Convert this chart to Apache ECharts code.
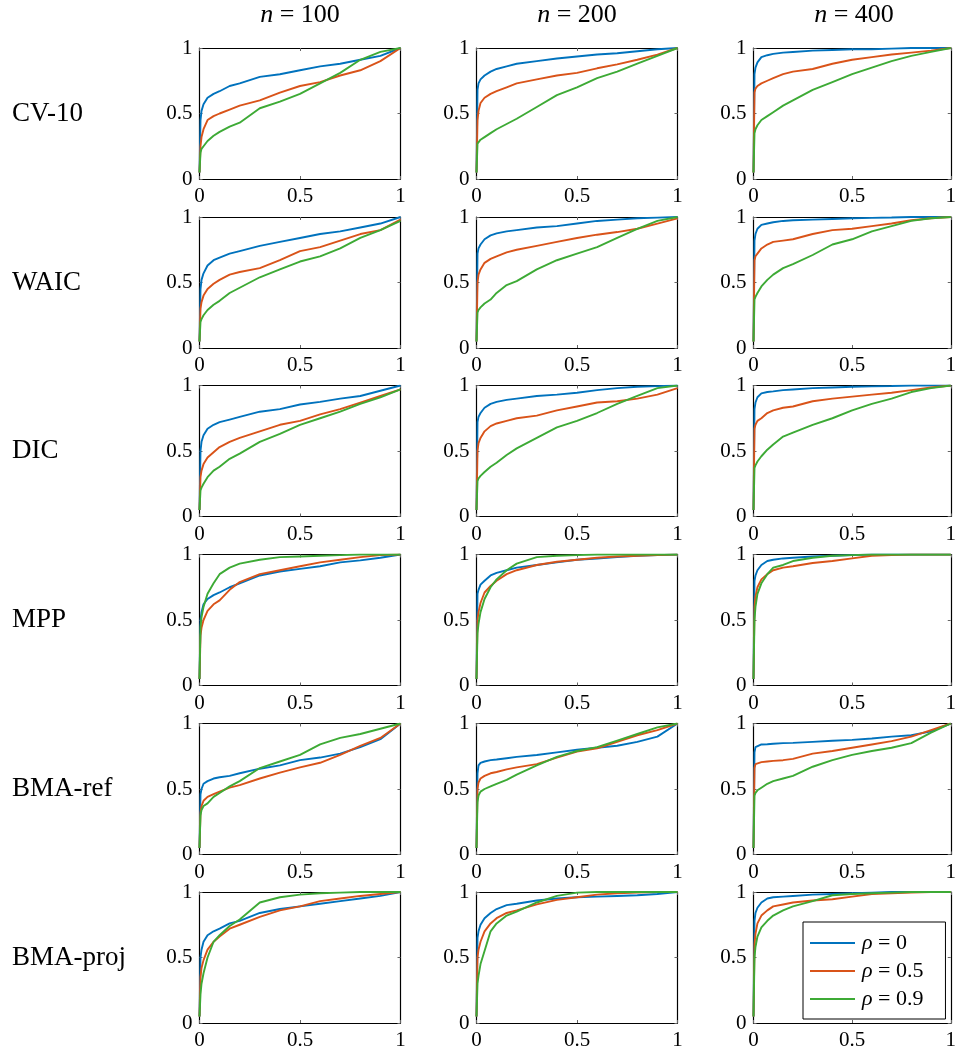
<!DOCTYPE html>
<html><head><meta charset="utf-8">
<script src="https://cdn.jsdelivr.net/npm/echarts@6/dist/echarts.min.js"></script>
<style>html,body{margin:0;padding:0;background:#fff}#c{width:959px;height:1051px}</style>
</head><body><div id="c"></div>
<script>
// shared false-positive-rate grid (x)
const FPR = [0,0.005,0.01,0.02,0.04,0.07,0.1,0.15,0.2,0.3,0.4,0.5,0.6,0.7,0.8,0.9,1];
const methods = ['CV-10','WAIC','DIC','MPP','BMA-ref','BMA-proj'];
const sampleSizes = ['100','200','400'];
const rhoLabels = ['0','0.5','0.9'];
const tickValues = [0, 0.5, 1];

// each panel: [rho=0, rho=0.5, rho=0.9] true-positive-rate values on FPR
const CV10_100 = [
 [0.05,0.45,0.52,0.57,0.62,0.65,0.67,0.71,0.73,0.78,0.8,0.83,0.86,0.88,0.91,0.94,1.0],
 [0.05,0.25,0.32,0.38,0.45,0.48,0.5,0.53,0.56,0.6,0.66,0.71,0.74,0.79,0.83,0.9,1.0],
 [0.05,0.2,0.23,0.25,0.29,0.33,0.36,0.4,0.43,0.54,0.59,0.65,0.73,0.81,0.91,0.97,1.0]];
const CV10_200 = [
 [0.05,0.68,0.73,0.76,0.79,0.82,0.84,0.86,0.88,0.9,0.92,0.935,0.95,0.96,0.975,0.99,1],
 [0.05,0.45,0.52,0.58,0.62,0.65,0.67,0.7,0.73,0.76,0.79,0.81,0.845,0.875,0.91,0.95,1],
 [0.05,0.27,0.28,0.3,0.32,0.35,0.38,0.42,0.46,0.55,0.64,0.7,0.77,0.82,0.88,0.94,1]];
const CV10_400 = [
 [0.05,0.8,0.85,0.89,0.93,0.945,0.955,0.965,0.97,0.98,0.985,0.99,0.99,0.995,1,1,1],
 [0.05,0.66,0.69,0.71,0.73,0.75,0.77,0.8,0.82,0.84,0.88,0.91,0.93,0.95,0.965,0.98,1],
 [0.05,0.35,0.38,0.41,0.45,0.48,0.51,0.56,0.6,0.68,0.74,0.8,0.85,0.9,0.94,0.97,1]];
const WAIC_100 = [
 [0.05,0.45,0.52,0.57,0.63,0.67,0.69,0.72,0.74,0.78,0.81,0.84,0.87,0.89,0.92,0.95,1],
 [0.05,0.3,0.35,0.4,0.45,0.49,0.52,0.56,0.58,0.61,0.67,0.74,0.77,0.82,0.87,0.9,0.98],
 [0.05,0.2,0.22,0.25,0.29,0.33,0.36,0.42,0.46,0.54,0.6,0.66,0.7,0.76,0.84,0.9,0.97]];
const WAIC_200 = [
 [0.05,0.72,0.76,0.79,0.83,0.86,0.875,0.89,0.9,0.92,0.93,0.95,0.97,0.98,0.99,0.995,1],
 [0.05,0.5,0.56,0.6,0.65,0.68,0.7,0.73,0.75,0.78,0.81,0.84,0.865,0.885,0.91,0.95,0.99],
 [0.05,0.27,0.29,0.31,0.34,0.37,0.42,0.48,0.51,0.6,0.67,0.72,0.77,0.84,0.91,0.97,1]];
const WAIC_400 = [
 [0.05,0.82,0.87,0.91,0.94,0.95,0.96,0.97,0.975,0.98,0.985,0.99,0.993,0.996,1,1,1],
 [0.05,0.67,0.7,0.72,0.76,0.79,0.81,0.82,0.83,0.87,0.9,0.91,0.93,0.95,0.975,0.99,1],
 [0.05,0.37,0.39,0.42,0.47,0.52,0.56,0.61,0.64,0.71,0.79,0.83,0.89,0.93,0.97,0.99,1]];
const DIC_100 = [
 [0.05,0.5,0.57,0.62,0.67,0.7,0.72,0.74,0.76,0.8,0.82,0.855,0.875,0.9,0.92,0.96,1],
 [0.05,0.3,0.35,0.4,0.45,0.49,0.53,0.57,0.6,0.65,0.7,0.73,0.78,0.82,0.87,0.92,0.97],
 [0.05,0.2,0.22,0.25,0.3,0.35,0.38,0.44,0.48,0.57,0.63,0.7,0.75,0.8,0.86,0.91,0.97]];
const DIC_200 = [
 [0.05,0.72,0.76,0.79,0.83,0.86,0.875,0.89,0.9,0.92,0.93,0.945,0.965,0.98,0.99,0.995,1],
 [0.05,0.5,0.56,0.6,0.65,0.69,0.71,0.73,0.75,0.77,0.81,0.84,0.87,0.88,0.9,0.93,0.98],
 [0.05,0.27,0.29,0.31,0.34,0.38,0.41,0.47,0.52,0.6,0.68,0.73,0.79,0.86,0.92,0.98,1]];
const DIC_400 = [
 [0.05,0.82,0.87,0.91,0.94,0.95,0.955,0.965,0.97,0.98,0.985,0.99,0.993,0.996,1,1,1],
 [0.05,0.67,0.7,0.73,0.75,0.79,0.81,0.83,0.84,0.88,0.9,0.915,0.93,0.945,0.965,0.985,1],
 [0.05,0.37,0.39,0.42,0.46,0.51,0.55,0.61,0.64,0.7,0.75,0.81,0.86,0.9,0.95,0.98,1]];
const MPP_100 = [
 [0.05,0.5,0.56,0.62,0.66,0.69,0.71,0.75,0.78,0.84,0.87,0.89,0.91,0.94,0.955,0.975,1],
 [0.05,0.38,0.44,0.5,0.57,0.62,0.65,0.73,0.79,0.85,0.88,0.91,0.94,0.96,0.98,0.995,1],
 [0.05,0.45,0.52,0.6,0.7,0.78,0.85,0.9,0.93,0.96,0.98,0.985,0.99,0.995,1,1,1]];
const MPP_200 = [
 [0.05,0.7,0.73,0.77,0.8,0.84,0.86,0.88,0.9,0.92,0.94,0.96,0.97,0.98,0.99,0.995,1],
 [0.05,0.5,0.56,0.63,0.71,0.76,0.8,0.85,0.88,0.92,0.945,0.96,0.975,0.985,0.99,0.995,1],
 [0.05,0.4,0.47,0.56,0.66,0.75,0.81,0.88,0.93,0.98,0.99,0.995,1,1,1,1,1]];
const MPP_400 = [
 [0.05,0.8,0.84,0.88,0.92,0.95,0.96,0.97,0.975,0.985,0.99,0.995,1,1,1,1,1],
 [0.05,0.6,0.68,0.75,0.81,0.85,0.88,0.9,0.91,0.935,0.95,0.97,0.99,0.995,1,1,1],
 [0.05,0.5,0.6,0.7,0.78,0.85,0.9,0.92,0.95,0.975,0.99,0.995,1,1,1,1,1]];
const BMAREF_100 = [
 [0.05,0.46,0.5,0.54,0.56,0.58,0.59,0.6,0.62,0.655,0.68,0.72,0.74,0.77,0.82,0.88,1],
 [0.05,0.32,0.37,0.41,0.44,0.46,0.48,0.51,0.53,0.58,0.625,0.665,0.7,0.76,0.83,0.89,1],
 [0.05,0.3,0.34,0.37,0.39,0.44,0.47,0.52,0.56,0.66,0.71,0.76,0.84,0.89,0.92,0.96,1]];
const BMAREF_200 = [
 [0.05,0.62,0.68,0.7,0.71,0.72,0.725,0.735,0.745,0.76,0.78,0.8,0.815,0.83,0.86,0.9,1],
 [0.05,0.5,0.55,0.58,0.6,0.62,0.63,0.65,0.665,0.69,0.74,0.785,0.81,0.86,0.91,0.95,1],
 [0.05,0.4,0.45,0.48,0.5,0.52,0.54,0.57,0.61,0.68,0.745,0.79,0.82,0.87,0.92,0.97,1]];
const BMAREF_400 = [
 [0.05,0.78,0.82,0.835,0.84,0.842,0.845,0.85,0.852,0.86,0.868,0.875,0.885,0.9,0.91,0.94,1],
 [0.05,0.66,0.69,0.7,0.705,0.71,0.715,0.72,0.73,0.77,0.79,0.815,0.84,0.865,0.9,0.95,1],
 [0.05,0.45,0.47,0.49,0.51,0.54,0.56,0.58,0.6,0.67,0.72,0.76,0.79,0.815,0.85,0.93,1]];
const BMAPROJ_100 = [
 [0.05,0.5,0.56,0.62,0.67,0.7,0.72,0.76,0.78,0.84,0.87,0.89,0.91,0.93,0.95,0.97,1],
 [0.05,0.35,0.42,0.48,0.56,0.62,0.66,0.72,0.75,0.81,0.86,0.89,0.93,0.95,0.97,0.985,1],
 [0.05,0.22,0.3,0.38,0.5,0.62,0.67,0.74,0.79,0.92,0.96,0.98,0.99,0.995,1,1,1]];
const BMAPROJ_200 = [
 [0.05,0.65,0.7,0.75,0.8,0.84,0.87,0.9,0.91,0.935,0.95,0.96,0.965,0.97,0.975,0.985,1],
 [0.05,0.5,0.56,0.62,0.7,0.76,0.8,0.84,0.86,0.905,0.94,0.96,0.98,0.99,0.995,1,1],
 [0.05,0.3,0.36,0.45,0.55,0.7,0.76,0.82,0.85,0.92,0.97,0.995,1,1,1,1,1]];
const BMAPROJ_400 = [
 [0.05,0.78,0.84,0.88,0.92,0.95,0.96,0.965,0.97,0.98,0.985,0.99,0.995,1,1,1,1],
 [0.05,0.6,0.68,0.76,0.82,0.86,0.89,0.905,0.92,0.935,0.945,0.965,0.985,0.99,0.995,1,1],
 [0.05,0.5,0.58,0.66,0.73,0.78,0.82,0.86,0.89,0.93,0.975,0.985,0.99,0.995,1,1,1]];

const panels = [
 [CV10_100, CV10_200, CV10_400],
 [WAIC_100, WAIC_200, WAIC_400],
 [DIC_100, DIC_200, DIC_400],
 [MPP_100, MPP_200, MPP_400],
 [BMAREF_100, BMAREF_200, BMAREF_400],
 [BMAPROJ_100, BMAPROJ_200, BMAPROJ_400]];

const colors = ['#0072BD', '#D95319', '#3DAA35'];
const FONT = 'Liberation Serif';
const colLeft = [199.5, 476.5, 753.5];
const rowTop = [48, 217, 385.5, 554.5, 723.5, 892];
const W = 201, H = 131;

const grids = [], xAxes = [], yAxes = [], series = [], graphics = [];
const tickStyle = { show: true, inside: true, length: 3, lineStyle: { color: '#666', width: 1 } };
const axisLineStyle = { show: true, onZero: false, lineStyle: { color: '#000', width: 1.2 } };
const labelStyle = { fontFamily: FONT, fontSize: 21, color: '#000' };
const fmt = v => (tickValues.indexOf(v) >= 0 ? String(v) : '');

panels.forEach((row, r) => {
  row.forEach((panel, c) => {
    const g = grids.length;
    grids.push({ left: colLeft[c], top: rowTop[r], width: W, height: H, show: false });
    const base = { type: 'value', min: 0, max: 1, interval: 0.5, gridIndex: g,
      splitLine: { show: false }, axisLine: axisLineStyle, axisTick: tickStyle };
    xAxes.push(Object.assign({}, base, { position: 'bottom',
      axisLabel: Object.assign({ margin: 7, formatter: fmt, showMinLabel: true, showMaxLabel: true }, labelStyle) }));
    xAxes.push(Object.assign({}, base, { position: 'top', axisLabel: { show: false } }));
    yAxes.push(Object.assign({}, base, { position: 'left',
      axisLabel: Object.assign({ margin: 7, formatter: fmt, showMinLabel: true, showMaxLabel: true }, labelStyle) }));
    yAxes.push(Object.assign({}, base, { position: 'right', axisLabel: { show: false } }));
    panel.forEach((vals, k) => {
      series.push({
        type: 'line', name: 'ρ = ' + rhoLabels[k], xAxisIndex: 2 * g, yAxisIndex: 2 * g,
        data: FPR.map((x, i) => [x, vals[i]]),
        showSymbol: false, symbol: 'none', smooth: false, clip: true, animation: false,
        color: colors[k], lineStyle: { color: colors[k], width: 1.9 }, z: 3
      });
    });
  });
});

// column titles
sampleSizes.forEach((n, c) => {
  graphics.push({ type: 'text', x: colLeft[c] + W / 2, y: 15,
    style: { text: '{i|n} = ' + n, fontFamily: FONT, fontSize: 26, fill: '#000',
      align: 'center', verticalAlign: 'middle',
      rich: { i: { fontStyle: 'italic', fontFamily: FONT, fontSize: 26, fill: '#000' } } } });
});
// row labels
methods.forEach((m, r) => {
  graphics.push({ type: 'text', x: 12, y: rowTop[r] + H / 2,
    style: { text: m, fontFamily: FONT, fontSize: 27, fill: '#000', align: 'left', verticalAlign: 'middle' } });
});

const option = {
  backgroundColor: '#fff',
  animation: false,
  grid: grids, xAxis: xAxes, yAxis: yAxes, series: series,
  graphic: graphics,
  legend: {
    data: rhoLabels.map(v => 'ρ = ' + v),
    orient: 'vertical', left: 803, top: 922,
    backgroundColor: '#fff', borderColor: '#000', borderWidth: 1,
    padding: [10, 22, 9, 7], itemGap: 6, itemWidth: 45, itemHeight: 2,
    icon: 'rect', selectedMode: false, z: 10,
    formatter: name => name.replace('ρ', '{i|ρ}'),
    textStyle: { fontFamily: FONT, fontSize: 22, color: '#000', padding: [0, 0, 0, 2],
      rich: { i: { fontStyle: 'italic', fontFamily: FONT, fontSize: 22, color: '#000' } } }
  }
};
const chart = echarts.init(document.getElementById('c'), null, { renderer: 'canvas' });
chart.setOption(option);
</script></body></html>
